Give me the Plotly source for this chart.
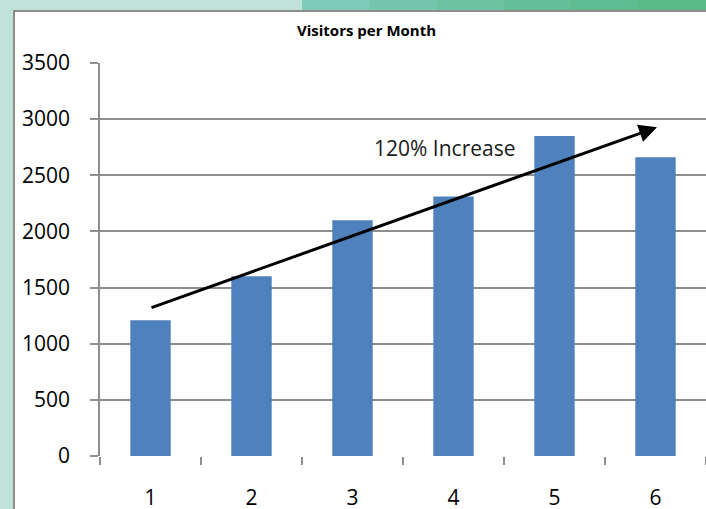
import plotly.graph_objects as go

months = [1, 2, 3, 4, 5, 6]
visitors = [1210, 1600, 2100, 2310, 2850, 2660]
y_ticks = [0, 500, 1000, 1500, 2000, 2500, 3000, 3500]
title_text = "Visitors per Month"
note_text = "120% Increase"
arrow_from = (0.995, 1317)
arrow_to = (6.015, 2928)

fig = go.Figure(go.Bar(x=months, y=visitors, marker=dict(color="#4f81bd", line=dict(width=0))))

# plot area pixel mapping: left=100, right=706, top=63, bottom=456
L, R, T, B = 100.0, 706.0, 63.0, 456.0
W, H = R - L, B - T
def px(x):
    return (x - L) / W
def py(y):
    return (B - y) / H

shapes = []
grad = ["#7fccb8", "#74c7ad", "#6bc3a2", "#64bf98", "#5fbb90", "#5cb98a"]
n = len(grad)
x0 = 302
step = (706 - x0) / n
for i, c in enumerate(grad):
    shapes.append(dict(type="rect", xref="paper", yref="paper", layer="below",
                       x0=px(x0 + i * step), x1=min(1.0, px(x0 + (i + 1) * step + 1)),
                       y0=py(11), y1=py(0), fillcolor=c, line=dict(width=0)))
shapes.append(dict(type="rect", xref="paper", yref="paper", layer="below",
                   x0=px(14), x1=1.0, y0=py(509), y1=py(11),
                   fillcolor="white", line=dict(width=0)))
shapes.append(dict(type="line", xref="paper", yref="paper", layer="below",
                   x0=px(14), x1=px(14), y0=py(509), y1=py(10),
                   line=dict(color="#8d8d8d", width=2)))
shapes.append(dict(type="line", xref="paper", yref="paper", layer="below",
                   x0=px(13), x1=1.0, y0=py(11), y1=py(11),
                   line=dict(color="#8d8d8d", width=2)))
fig.update_layout(shapes=shapes)

fig.add_annotation(x=arrow_to[0], y=arrow_to[1], ax=arrow_from[0], ay=arrow_from[1],
                   xref="x", yref="y", axref="x", ayref="y", text="",
                   showarrow=True, arrowhead=2, arrowsize=1.2, arrowwidth=3, arrowcolor="black")
fig.add_annotation(x=px(445), y=py(148), xref="paper", yref="paper", text=note_text,
                   xanchor="center", yanchor="middle",
                   showarrow=False, font=dict(family="Open Sans", size=21, color="#1a1a1a"))
fig.add_annotation(x=px(366), y=py(30), xref="paper", yref="paper", text="<b>" + title_text + "</b>",
                   xanchor="center", yanchor="middle",
                   showarrow=False, font=dict(family="Open Sans", size=15, color="black"))

fig.update_layout(
    width=706, height=509,
    margin=dict(l=100, r=0, t=63, b=53, pad=0),
    paper_bgcolor="#c1e2d9",
    plot_bgcolor="white",
    showlegend=False,
    bargap=0.6,
    font=dict(family="Open Sans", size=21, color="black"),
)
fig.update_xaxes(range=[0.5, 6.5], tickvals=months, ticktext=[str(m) for m in months],
                 ticks="", showgrid=False, showline=False, zeroline=False,
                 ticklabelstandoff=27, automargin=False,
                 minor=dict(tick0=0.5, dtick=1, ticks="outside", ticklen=8,
                            tickcolor="#8d8d8d", tickwidth=1.5, showgrid=False),
                 tickfont=dict(family="Open Sans", size=21))
fig.update_yaxes(range=[0, 3500], tickvals=y_ticks, ticks="outside", ticklen=8,
                 tickcolor="#8d8d8d", tickwidth=1.5, showgrid=True, gridcolor="#8d8d8d",
                 gridwidth=1.5, showline=True, linecolor="#8d8d8d", linewidth=1.5,
                 zeroline=False, ticklabelstandoff=16, automargin=False,
                 tickfont=dict(family="Open Sans", size=21))

fig.write_html("out.html", config={"displayModeBar": False},
               post_script="document.body.style.margin='0';document.body.style.overflow='hidden';")
